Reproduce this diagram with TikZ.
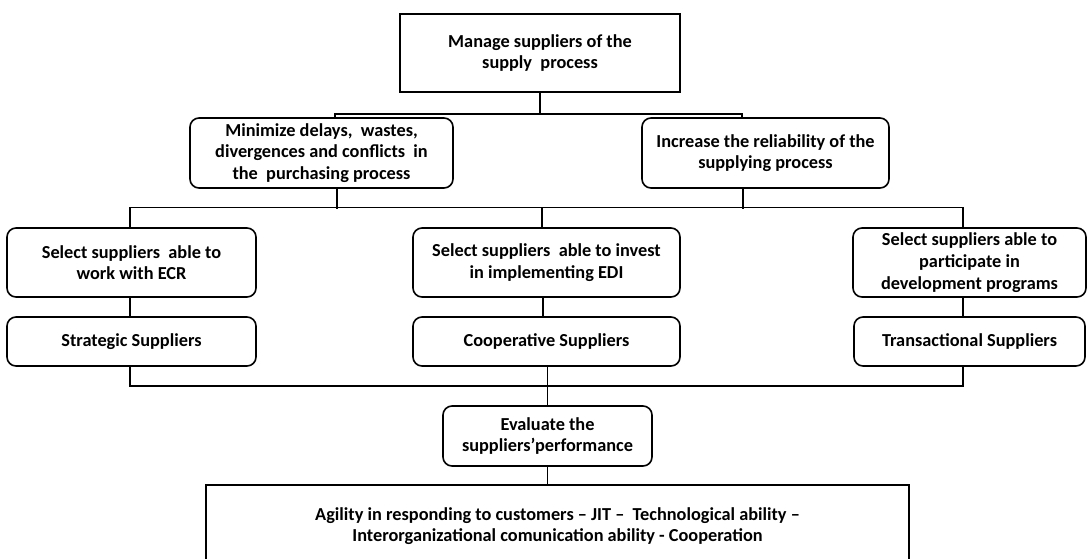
\documentclass[tikz,border=0pt]{standalone}
\usepackage{fontspec}
\setmainfont{Carlito}

\begin{document}
\begin{tikzpicture}[x=1pt,y=-1pt,
  box/.style={draw,line width=1.6pt,rounded corners=9pt,align=center,inner sep=0pt,
    font=\bfseries\fontsize{18.3}{21.7}\selectfont},
  sqbox/.style={box,rounded corners=0pt},
  wire/.style={line width=1.4pt}]
\useasboundingbox (0,0) rectangle (1087,558);
\clip (0,0) rectangle (1087,558);
\node [sqbox,minimum width=280,minimum height=78] (top) at (540,53) {Manage suppliers of the\\supply\ \ process};
\node [box,minimum width=263,minimum height=70] (mini) at (321.5,153) {Minimize delays,\ \ wastes,\\divergences and conflicts\ \ in\\the\ \ purchasing process};
\node [box,minimum width=247,minimum height=70] (incr) at (765.5,153) {Increase the reliability of the\\supplying process};
\node [box,minimum width=249,minimum height=69] (sel1) at (131.5,262.5) {Select suppliers\ \ able to\\work with ECR};
\node [box,minimum width=267,minimum height=69] (sel2) at (546.5,262.5) {Select suppliers\ \ able to invest\\in implementing EDI};
\node [box,minimum width=233,minimum height=69] (sel3) at (969.5,262.5) {Select suppliers able to\\participate in\\development programs};
\node [box,minimum width=249,minimum height=49] (typ1) at (131.5,341.5) {Strategic Suppliers};
\node [box,minimum width=267,minimum height=49] (typ2) at (546.5,341.5) {Cooperative Suppliers};
\node [box,minimum width=231,minimum height=49] (typ3) at (969.5,341.5) {Transactional Suppliers};
\node [box,minimum width=209,minimum height=60] (eval) at (547.5,436) {Evaluate the\\suppliers'performance};
\node [sqbox,minimum width=703,minimum height=82] (agil) at (557.5,526) {Agility in responding to customers -- JIT --\ \ Technological ability --\\Interorganizational comunication ability - Cooperation};
\draw [line width=2.6pt] (top.south) -- ++(0,21) coordinate (j1);
\draw [wire] ([xshift=13.5]mini.north) |- (j1) -| ([xshift=-23.5]incr.north);
\draw [wire] ([xshift=15.5]mini.south) -- ++(0,20);
\draw [wire] ([xshift=-22.5]incr.south) -- ++(0,20);
\draw [wire] ([xshift=-1.5]sel1.north) -- ++(0,-20) -| ([xshift=-6.5]sel3.north);
\draw [wire] ([xshift=-4.5]sel2.north) -- ++(0,-20);
\draw [wire] ([xshift=-1.5]sel1.south) -- ([xshift=-1.5]typ1.north);
\draw [wire] ([xshift=-3.5]sel2.south) -- ([xshift=-3.5]typ2.north);
\draw [wire] ([xshift=-6.5]sel3.south) -- ([xshift=-6.5]typ3.north);
\draw [wire] ([xshift=-1.5]typ1.south) -- ++(0,19) -| ([xshift=-6.5]typ3.south);
\draw [wire] (typ2.south -| eval.north) -- (eval.north);
\draw [wire] (eval.south) -- (eval.south |- agil.north);
\end{tikzpicture}
\end{document}
